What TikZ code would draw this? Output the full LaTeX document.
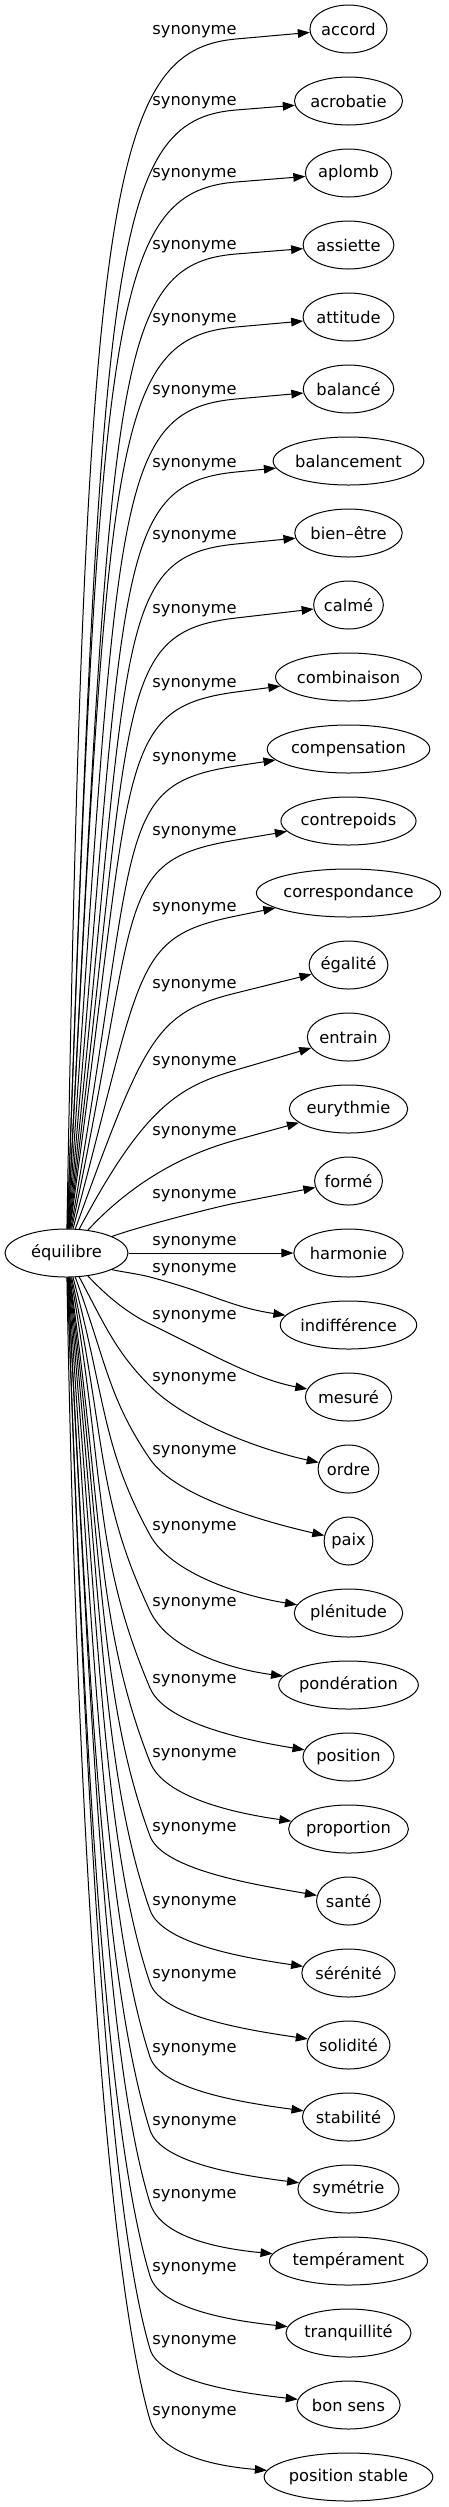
\documentclass[tikz,border=0pt]{standalone}
\usepackage{fontspec}
\setmainfont{DejaVu Sans}
\usetikzlibrary{arrows.meta,calc,shapes.geometric}
\newcommand\wfont{\fontsize{12.2pt}{14.6pt}\selectfont}
\newsavebox\wbox
\begin{document}
\begin{tikzpicture}[x=0.75pt,y=0.75pt,
  word/.style={draw,ellipse,inner sep=0pt,minimum height=36pt,line width=0.75pt,font=\wfont},
  lbl/.style={inner sep=0pt,font=\wfont},
  syn/.style={line width=0.75pt,-{Triangle[length=9pt,width=6.5pt]}}]
\useasboundingbox (0,0) rectangle (449,-2507);
\node[word,minimum width=92.25pt] (eq) at (66.5,-1253) {équilibre};
\foreach \txt/\ly/\al [count=\i from 0] in {accord/32/89, acrobatie/103/88, aplomb/175/88, assiette/247/87, attitude/320/87, balancé/392/86, balancement/465/85, bien–être/537/84, calmé/611/83, combinaison/685/82, compensation/759/80, contrepoids/833/78, correspondance/909/75, égalité/986/70, entrain/1063/62, eurythmie/1133/47, formé/1196/20, harmonie/1243/0, indifférence/1270/-20, mesuré/1317/-47, ordre/1379/-62, paix/1452/-70, plénitude/1528/-75, pondération/1604/-78, position/1681/-80, proportion/1755/-82, santé/1829/-83, sérénité/1903/-84, solidité/1976/-85, stabilité/2050/-86, symétrie/2123/-87, tempérament/2196/-87, tranquillité/2269/-88, bon sens/2342/-88, position stable/2413/-89}{
  \sbox\wbox{\wfont\txt}
  \pgfmathsetmacro\tw{\the\wd\wbox}
  \pgfmathsetmacro\ty{29+72*\i}
  \pgfmathsetmacro\Ex{348.5-(1.247*\tw+20.25)/1.5}
  \node[word,minimum width={1.247*\tw+20.25}] (t\i) at (348.5,-\ty) {\txt};
  \node[lbl] (l\i) at (194.5,-\ly) {synonyme};
  \ifnum\i<17
    \pgfmathsetmacro\r{61.5*24/sqrt((24*cos(\al))^2+(61.5*sin(\al))^2)}
    \pgfmathsetmacro\Sy{1253-\r*sin(\al)}
    \pgfmathsetmacro\dy{\Sy-\ly-7}
    \pgfmathsetmacro\A{0.87*\dy}
    \pgfmathsetmacro\B{min(126,max(20,38+0.3*(\dy-87)))}
    \pgfmathsetmacro\b{atan2(\ly+7-\ty,112.5)}
    \coordinate (p\i) at (236,-\ly-7);
    \draw[syn] (eq.\al) .. controls ($(eq.\al)+(\al:\A)$) and ($(p\i)+(180+\b:\B)$) .. (p\i) -- (t\i);
  \fi
  \ifnum\i=17
    \draw[syn] (eq) -- (t\i);
  \fi
  \ifnum\i>17
    \pgfmathsetmacro\r{61.5*24/sqrt((24*cos(\al))^2+(61.5*sin(\al))^2)}
    \pgfmathsetmacro\Sx{66.5+\r*cos(\al)}
    \pgfmathsetmacro\Sy{1253-\r*sin(\al)}
    \pgfmathsetmacro\dy{\ly+7-\Sy}
    \pgfmathsetmacro\g{max(15,atan2(\dy,150-\Sx)-12)}
    \pgfmathsetmacro\A{0.5*\dy}
    \pgfmathsetmacro\B{min(150,0.35*\dy+10)}
    \pgfmathsetmacro\L{veclen(\Ex-150,\ty-\ly-7)}
    \pgfmathsetmacro\Cc{\L*(0.4-0.003*\g)}
    \pgfmathsetmacro\D{0.28*\L}
    \pgfmathsetmacro\de{20-0.5*(\i-18)}
    \coordinate (p\i) at (150,-\ly-7);
    \draw[syn] (eq.\al) .. controls ($(eq.\al)+(\al:\A)$) and ($(p\i)+(180-\g:\B)$) .. (p\i) .. controls ($(p\i)+(-\g:\Cc)$) and ($(t\i.west)+(180-\de:\D)$) .. (t\i);
  \fi
}
\end{tikzpicture}
\end{document}
